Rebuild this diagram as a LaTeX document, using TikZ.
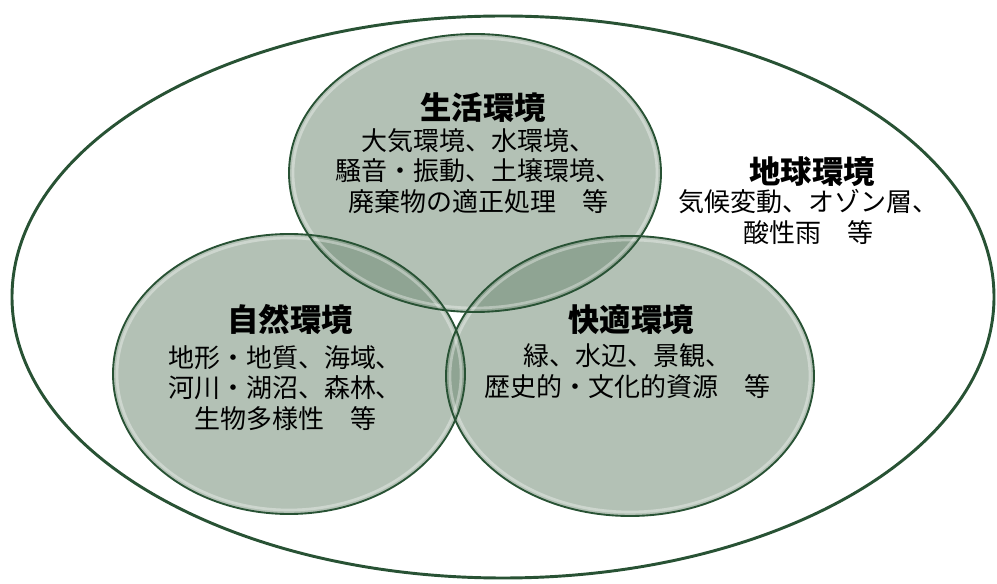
\documentclass[tikz,border=0pt]{standalone}
\usepackage{fontspec}
\setmainfont{Noto Sans CJK JP}
\definecolor{envfill}{RGB}{112,138,116}
\definecolor{envline}{RGB}{40,82,52}
\begin{document}
\begin{tikzpicture}[x=0.75pt, y=-0.75pt, line join=round, line cap=round,
	envcircle/.style={fill=envfill, fill opacity=0.53},
	envedge/.style={draw=envline, line width=1.4pt},
	envrim/.style={draw=white, draw opacity=0.35, line width=2pt},
	envtitle/.style={font=\fontsize{23.5}{26}\selectfont\bfseries, inner sep=0pt},
	envtext/.style={align=center, font=\fontsize{19.5}{22.8}\selectfont, inner sep=0pt}]
	%Canvas.
	\useasboundingbox (0,0) rectangle (997,584);
	%Centres.
	\coordinate (E) at (503,297);
	\coordinate (S) at (475,173);
	\coordinate (N) at (289,374);
	\coordinate (K) at (630,376);
	%Outer ellipse.
	\draw[envline, line width=2.2pt] (E) ellipse (491 and 281);
	%Circles.
	\fill[envcircle] (S) ellipse (186 and 139);
	\fill[envcircle] (N) ellipse (176 and 140);
	\fill[envcircle] (K) ellipse (184 and 140);
	\draw[envrim] (S) ellipse (182 and 135);
	\draw[envrim] (N) ellipse (172 and 136);
	\draw[envrim] (K) ellipse (180 and 136);
	\draw[envedge] (S) ellipse (186 and 139);
	\draw[envedge] (N) ellipse (176 and 140);
	\draw[envedge] (K) ellipse (184 and 140);
	%Texts.
	\node[envtitle] (seikatsu) at (483,108) {生活環境};
	\node[envtext] (seikatsu-t) at (478,171) {大気環境、水環境、\\騒音・振動、土壌環境、\\廃棄物の適正処理　等};
	\node[envtitle] (shizen) at (290,320) {自然環境};
	\node[envtext] (shizen-t) at (285,388) {地形・地質、海域、\\河川・湖沼、森林、\\生物多様性　等};
	\node[envtitle] (kaiteki) at (631,320) {快適環境};
	\node[envtext] (kaiteki-t) at (627,371) {緑、水辺、景観、\\歴史的・文化的資源　等};
	\node[envtitle] (chikyu) at (812,172) {地球環境};
	\node[envtext] (chikyu-t) at (808,217) {気候変動、オゾン層、\\酸性雨　等};
\end{tikzpicture}
\end{document}
